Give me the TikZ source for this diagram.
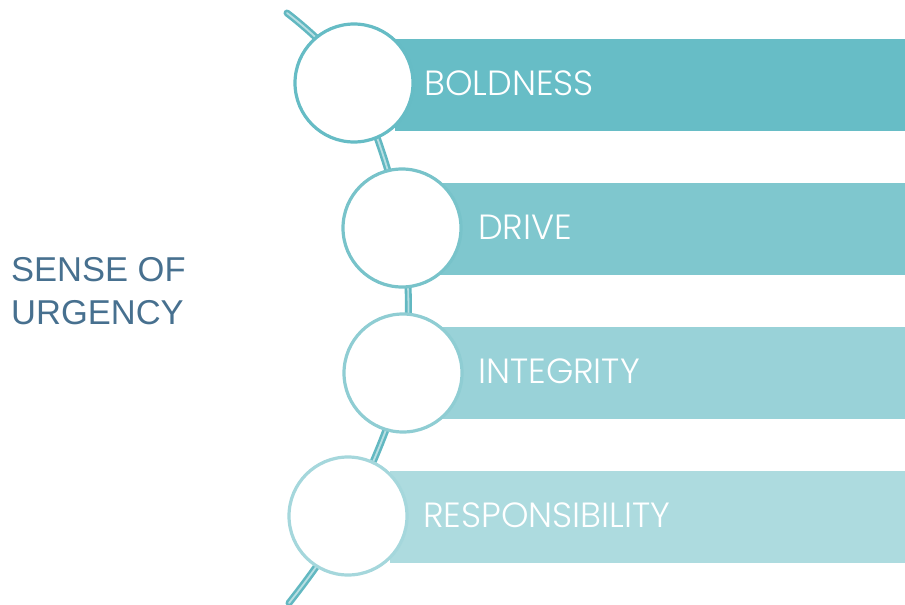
\documentclass[tikz,border=0pt]{standalone}
\usepackage{fontspec}
\setmainfont{Liberation Sans}
\newfontfamily\barfont{Poppins}[UprightFont=* Light]
\begin{document}
\definecolor{tealA}{HTML}{67BDC6}
\definecolor{tealB}{HTML}{7FC7CE}
\definecolor{tealC}{HTML}{99D2D8}
\definecolor{tealD}{HTML}{ADDBDF}
\definecolor{ringA}{HTML}{66BCC5}
\definecolor{ringB}{HTML}{78C3CA}
\definecolor{ringC}{HTML}{8FCDD3}
\definecolor{ringD}{HTML}{A5D7DC}
\definecolor{spine}{HTML}{62B8C1}
\definecolor{heading}{HTML}{47708F}
\begin{tikzpicture}[x=1pt,y=-1pt,
  bar/.style={draw=none,anchor=north west,minimum height=92pt,inner sep=0pt,outer sep=0pt},
  ring/.style={circle,fill=white,line width=3.2pt,minimum size=118pt,inner sep=0pt},
  bartext/.style={anchor=base west,inner sep=0pt,text=white,font=\barfont\fontsize{35}{40}\selectfont},
  spineline/.style={draw=spine,line width=2.6pt,double=white!55!spine,double distance=1.8pt,line cap=round}]
  \useasboundingbox (0,0) rectangle (905,605);

  % end points of the spine
  \coordinate (top) at (287,13);
  \coordinate (bot) at (289,603);

  % ring positions (used by the spine before the rings are drawn)
  \coordinate (p1) at (354,83);
  \coordinate (p2) at (402,228);
  \coordinate (p3) at (403,373);
  \coordinate (p4) at (348,516);

  % spine running behind the rings
  \draw[spineline] plot[smooth,tension=0.55] coordinates {(top) (p1) (p2) (p3) (p4) (bot)};

  % coloured bars
  \node[bar,fill=tealA,minimum width=510pt] (b1) at (395,38.5) {};
  \node[bar,fill=tealB,minimum width=465pt] (b2) at (440,182.5) {};
  \node[bar,fill=tealC,minimum width=465pt] (b3) at (440,326.5) {};
  \node[bar,fill=tealD,minimum width=515pt] (b4) at (390,470.5) {};

  % rings on top of bars
  \node[ring,draw=ringA] (c1) at (p1) {};
  \node[ring,draw=ringB] (c2) at (p2) {};
  \node[ring,draw=ringC] (c3) at (p3) {};
  \node[ring,draw=ringD] (c4) at (p4) {};

  % bar labels
  \node[bartext] (t1) at (424,95) {BOLDNESS};
  \node[bartext] (t2) at (478,239) {DRIVE};
  \node[bartext] (t3) at (478,383) {INTEGRITY};
  \node[bartext] (t4) at (423,527) {RESPONSIBILITY};

  % heading on the left (base anchor sits on the last line)
  \node[anchor=base west,inner sep=0pt,text=heading,align=left,
        font=\fontsize{34.5}{43}\selectfont] (h) at (11,324) {SENSE OF\\URGENCY};
\end{tikzpicture}
\end{document}
